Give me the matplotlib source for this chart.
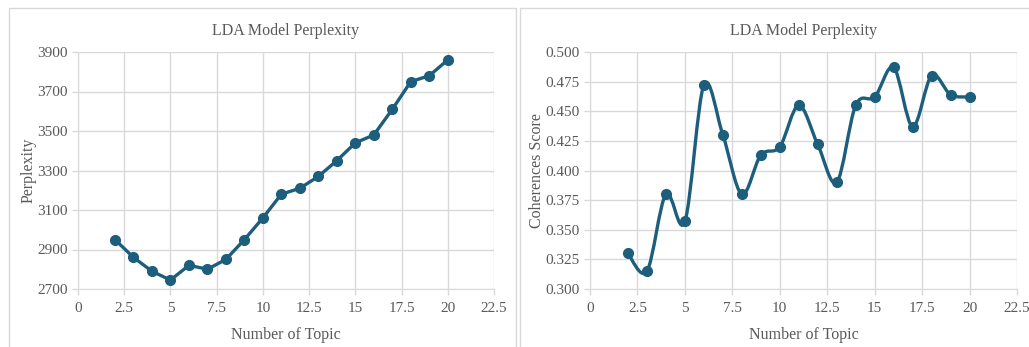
import matplotlib.pyplot as plt
import numpy as np
from matplotlib.patches import PathPatch, Rectangle
from matplotlib.path import Path

topics = [2, 3, 4, 5, 6, 7, 8, 9, 10, 11, 12, 13, 14, 15, 16, 17, 18, 19, 20]
perplexity = [2950, 2860, 2790, 2745, 2820, 2800, 2850, 2950, 3060, 3180,
              3210, 3270, 3350, 3440, 3480, 3610, 3750, 3780, 3860]
coherence = [0.330, 0.315, 0.380, 0.357, 0.472, 0.430, 0.380, 0.413, 0.420, 0.455,
             0.422, 0.390, 0.455, 0.462, 0.487, 0.437, 0.480, 0.464, 0.462]

LINE = "#1c5e7c"
GRID = "#d9d9d9"
TEXT = "#595959"

plt.rcParams["font.family"] = ["Liberation Serif", "DejaVu Serif"]
plt.rcParams["font.size"] = 11


def smooth_path(x, y):
    # cubic Bezier segments through every point (Catmull-Rom style, tension 1/6)
    pts = np.column_stack([x, y]).astype(float)
    n = len(pts)
    verts = [pts[0]]
    codes = [Path.MOVETO]
    for i in range(n - 1):
        p0 = pts[max(i - 1, 0)]
        p1 = pts[i]
        p2 = pts[i + 1]
        p3 = pts[min(i + 2, n - 1)]
        verts += [p1 + (p2 - p0) / 6, p2 - (p3 - p1) / 6, p2]
        codes += [Path.CURVE4] * 3
    return Path(verts, codes)


def style_axes(ax, title, ylabel):
    ax.set_xlim(0, 22.5)
    ax.set_xticks(np.arange(0, 23, 2.5))
    ax.set_xticklabels(["0", "2.5", "5", "7.5", "10", "12.5", "15", "17.5", "20", "22.5"])
    ax.grid(True, color=GRID, linewidth=1)
    ax.set_axisbelow(True)
    for side in ("top", "right"):
        ax.spines[side].set_visible(False)
    for side in ("left", "bottom"):
        ax.spines[side].set_color(GRID)
    ax.tick_params(colors=GRID, labelcolor=TEXT, length=4, width=1, labelsize=11)
    ax.tick_params(axis="x", pad=5)
    ax.set_title(title, color=TEXT, fontsize=11.5, pad=12)
    ax.set_xlabel("Number of Topic", color=TEXT, fontsize=11.5, labelpad=9)
    ax.set_ylabel(ylabel, color=TEXT, fontsize=11.5, labelpad=0)


fig = plt.figure(figsize=(10.29, 3.47), dpi=100)

# chart frames
fig.patches.append(Rectangle((9 / 1029, -0.01), 507 / 1029, 1 - 8 / 347 + 0.01,
                             transform=fig.transFigure, fill=False, edgecolor=GRID, lw=1))
fig.patches.append(Rectangle((520 / 1029, -0.01), 520 / 1029, 1 - 8 / 347 + 0.01,
                             transform=fig.transFigure, fill=False, edgecolor=GRID, lw=1))

ax1 = fig.add_axes([78 / 1029, 1 - 289 / 347, 416 / 1029, 237 / 347])
ax1.plot(topics, perplexity, color=LINE, linewidth=2.4, marker="o", markersize=7)
ax1.set_ylim(2700, 3900)
ax1.set_yticks(np.arange(2700, 3901, 200))
style_axes(ax1, "LDA Model Perplexity", "Perplexity")

ax2 = fig.add_axes([590 / 1029, 1 - 289 / 347, 427 / 1029, 237 / 347])
ax2.add_patch(PathPatch(smooth_path(topics, coherence), facecolor="none",
                        edgecolor=LINE, linewidth=2.4))
ax2.plot(topics, coherence, linestyle="none", color=LINE, marker="o", markersize=7)
ax2.set_ylim(0.3, 0.5)
ax2.set_yticks(np.arange(0.3, 0.501, 0.025))
ax2.set_yticklabels([f"{v:.3f}" for v in np.arange(0.3, 0.501, 0.025)])
style_axes(ax2, "LDA Model Perplexity", "Coherences Score")

fig.savefig("out.png", dpi=100)
